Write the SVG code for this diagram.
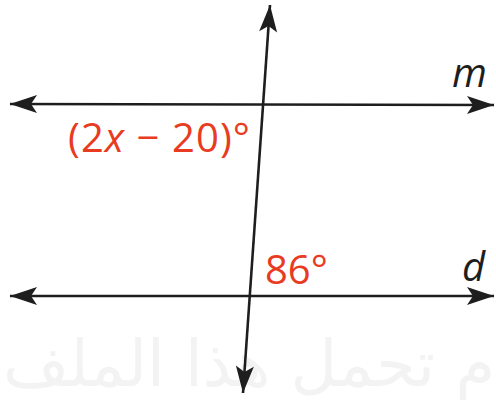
<svg xmlns="http://www.w3.org/2000/svg" width="496" height="400" viewBox="0 0 496 400">
  <style>
    .ln { stroke: #1e1e1e; stroke-width: 2.6; fill: none; }
    .lbl { font-family: "Open Sans", "Liberation Sans", sans-serif; font-size: 40px; fill: #e83b1f; }
    .nm { font-family: "Open Sans", "Liberation Sans", sans-serif; font-size: 40px; font-style: italic; fill: #1e1e1e; }
    .wm { font-family: "DejaVu Sans", sans-serif; font-size: 64px; fill: #f3f3f3; }
  </style>
  <defs>
    <marker id="arr" markerUnits="userSpaceOnUse" markerWidth="30" markerHeight="20" refX="27" refY="9" orient="auto-start-reverse" overflow="visible">
      <path d="M0,0 L27,9 L0,18 L6,9 Z" fill="#1e1e1e"/>
    </marker>
  </defs>
  <rect width="496" height="400" fill="#ffffff"/>
  <g id="watermark">
    <text class="wm" x="249" y="386" text-anchor="middle">م تحمل هذا الملف</text>
  </g>
  <g id="connectors">
    <line id="line-m" class="ln" x1="10" y1="104" x2="494" y2="105" marker-start="url(#arr)" marker-end="url(#arr)"/>
    <line id="line-d" class="ln" x1="10" y1="296" x2="494" y2="296" marker-start="url(#arr)" marker-end="url(#arr)"/>
    <line id="transversal" class="ln" x1="270" y1="5" x2="243" y2="393" marker-start="url(#arr)" marker-end="url(#arr)"/>
  </g>
  <g id="label-m">
    <text class="nm" x="452" y="87">m</text>
  </g>
  <g id="label-d">
    <text class="nm" x="462" y="281">d</text>
  </g>
  <g id="angle-top">
    <text class="lbl" x="68" y="152" textLength="182" lengthAdjust="spacing">(2<tspan font-style="italic">x</tspan> − 20)°</text>
  </g>
  <g id="angle-bottom">
    <text class="lbl" x="265" y="284">86°</text>
  </g>
</svg>
